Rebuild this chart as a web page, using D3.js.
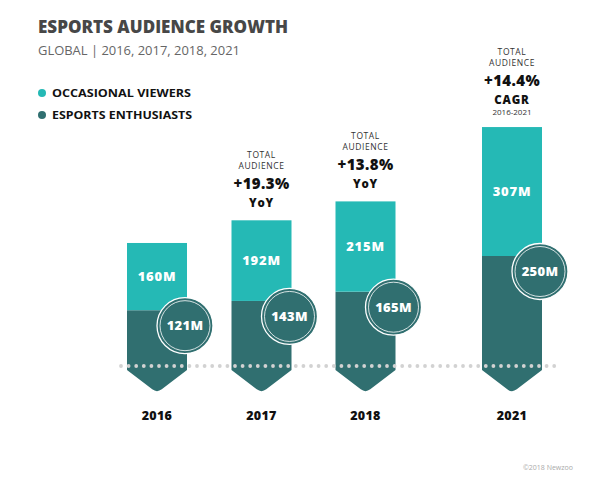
<!DOCTYPE html>
<html>
<head>
<meta charset="utf-8">
<script src="https://cdn.jsdelivr.net/npm/d3@7/dist/d3.min.js"></script>
<style>
  html, body { margin: 0; padding: 0; background: #fff; }
  svg { display: block; }
  text { font-family: "Open Sans", "Lato", sans-serif; }
</style>
</head>
<body>
<script>
const years = ["2016", "2017", "2018", "2021"];
const occasional = [160, 192, 215, 307];
const enthusiasts = [121, 143, 165, 250];
const growthPct = ["", "+19.3%", "+13.8%", "+14.4%"];
const growthType = ["", "YoY", "YoY", "CAGR"];
const growthPeriod = ["", "", "", "2016-2021"];
const legendLabels = ["OCCASIONAL VIEWERS", "ESPORTS ENTHUSIASTS"];

const W = 601, H = 495;
const cTeal = "#25b9b5", cDark = "#306f70";

const svg = d3.select("body").append("svg").attr("width", W).attr("height", H);

const x = d3.scaleOrdinal().domain(years).range([157, 261.5, 365.5, 512]);
const y = d3.scaleLinear().domain([0, 600]).range([361, 109]);
const bw = 60;

// Title
svg.append("text").attr("x", 38).attr("y", 33)
  .attr("font-size", 17).attr("font-weight", 800).attr("fill", "#474747")
  .attr("textLength", 250).attr("lengthAdjust", "spacingAndGlyphs")
  .text("ESPORTS AUDIENCE GROWTH");
svg.append("text").attr("x", 38).attr("y", 55)
  .attr("font-size", 12.5).attr("fill", "#666")
  .attr("textLength", 202).attr("lengthAdjust", "spacingAndGlyphs")
  .text("GLOBAL | 2016, 2017, 2018, 2021");

// Legend
const lg = svg.append("g");
legendLabels.forEach((l, i) => {
  const ly = 93 + i * 22;
  lg.append("circle").attr("cx", 42).attr("cy", ly).attr("r", 4).attr("fill", i === 0 ? cTeal : cDark);
  lg.append("text").attr("x", 52).attr("y", ly).attr("dy", "0.36em")
    .attr("font-size", 11).attr("font-weight", 700).attr("fill", "#111")
    .attr("textLength", i === 0 ? 139 : 140).attr("lengthAdjust", "spacingAndGlyphs")
    .text(l);
});

const data = years.map((yr, i) => ({
  yr, occ: occasional[i], ent: enthusiasts[i], total: occasional[i] + enthusiasts[i],
  pct: growthPct[i], type: growthType[i], period: growthPeriod[i]
}));

const bars = svg.append("g").selectAll("g").data(data).join("g");

// Dark (enthusiasts) body with chevron bottom
const sideBottom = 370, tip = 393;
bars.append("path").attr("fill", cDark).attr("d", d => {
  const cx = x(d.yr), l = cx - bw / 2, r = cx + bw / 2, t = y(d.ent);
  const k = 6;
  const dx = (bw / 2), dy = tip - sideBottom;
  const ux = dx / Math.hypot(dx, dy) * k, uy = dy / Math.hypot(dx, dy) * k;
  return `M${l},${t}H${r}V${sideBottom}L${cx + ux},${tip - uy}Q${cx},${tip} ${cx - ux},${tip - uy}L${l},${sideBottom}Z`;
});
// Teal (occasional) on top
bars.append("rect").attr("fill", cTeal)
  .attr("x", d => x(d.yr) - bw / 2).attr("width", bw)
  .attr("y", d => y(d.total)).attr("height", d => y(d.ent) - y(d.total));

// Dotted baseline
const dots = d3.range(121, 556, 7.6);
svg.append("g").selectAll("circle").data(dots).join("circle")
  .attr("cx", d => d).attr("cy", 366).attr("r", 1.9).attr("fill", "#d2d2d2");

// Teal labels
bars.append("text")
  .attr("x", d => x(d.yr)).attr("y", d => (y(d.total) + y(d.ent)) / 2).attr("dy", "0.36em")
  .attr("text-anchor", "middle").attr("font-size", 13).attr("font-weight", 800).attr("fill", "#fff")
  .attr("letter-spacing", 0.8)
  .text(d => d.occ + "M");

// Circles
const circ = bars.append("g").attr("transform", d => `translate(${x(d.yr) + bw / 2 - 2},${y(d.ent) + 15.5})`);
circ.append("circle").attr("r", 28).attr("fill", cDark).attr("stroke", "#fff").attr("stroke-width", 1.3);
circ.append("circle").attr("r", 25).attr("fill", "none").attr("stroke", "#fff").attr("stroke-width", 0.8);
circ.append("text").attr("text-anchor", "middle").attr("dy", "0.36em")
  .attr("font-size", 13).attr("font-weight", 800).attr("fill", "#fff").attr("letter-spacing", 0.3)
  .text(d => d.ent + "M");

// Year labels
bars.append("text").attr("x", d => x(d.yr)).attr("y", 415).attr("dy", "0.36em")
  .attr("text-anchor", "middle").attr("font-size", 12.5).attr("font-weight", 800).attr("fill", "#111")
  .attr("letter-spacing", 0.3)
  .text(d => d.yr);

// Growth annotations
bars.filter(d => d.pct).each(function(d) {
  const g = d3.select(this);
  const cx = x(d.yr);
  const top = y(d.total);
  const last = d.period ? 60 : 47.5;
  const first = top - (d.period ? 15 : 17.5) - last;
  const line = (txt, off, size, weight, fill, ls) => g.append("text")
    .attr("x", cx).attr("y", first + off).attr("dy", "0.36em").attr("text-anchor", "middle")
    .attr("font-size", size).attr("font-weight", weight).attr("fill", fill)
    .attr("letter-spacing", ls).text(txt);
  line("TOTAL", 0, 8.5, 400, "#333", 0.6);
  line("AUDIENCE", 10.5, 8.5, 400, "#333", 0.6);
  line(d.pct, 28.5, 15, 800, "#111", 0.4);
  line(d.type, 47.5, 11.5, 800, "#111", 0.8);
  if (d.period) line(d.period, 60, 8, 400, "#333", 0);
});

// Credit
svg.append("text").attr("x", 573).attr("y", 467).attr("dy", "0.36em").attr("text-anchor", "end")
  .attr("font-size", 7).attr("fill", "#aaa").text("©2018 Newzoo");
</script>
</body>
</html>
